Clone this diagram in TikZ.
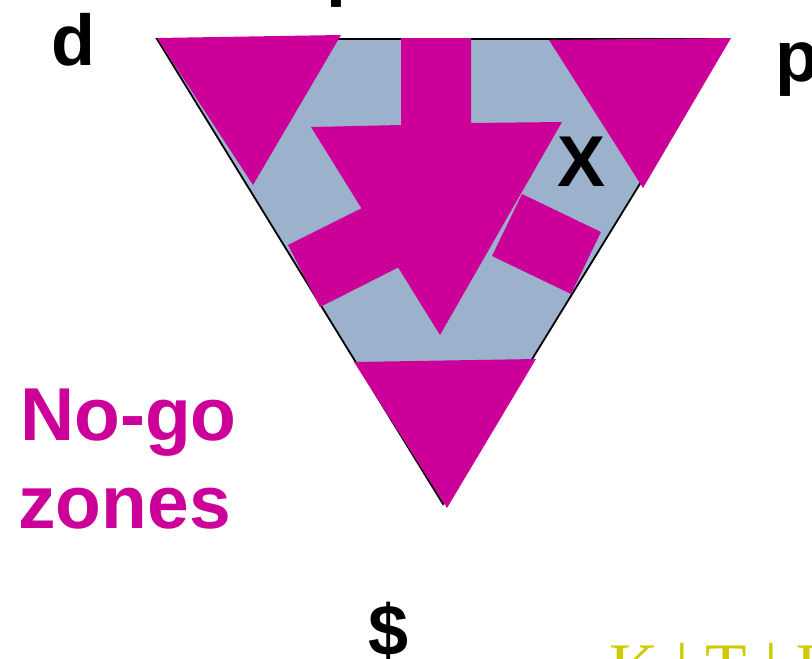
\documentclass[tikz,border=0pt]{standalone}
\usepackage{fontspec}
\setmainfont{Liberation Sans}
\newfontfamily\serifface{Liberation Serif}
\definecolor{nogo}{RGB}{204,0,153}
\definecolor{field}{RGB}{155,177,204}
\definecolor{olive}{RGB}{204,204,0}
\tikzset{
  zone/.style={fill=nogo, draw=none},
  label/.style={inner sep=0pt, font=\bfseries\fontsize{72}{80}\selectfont, text=black},
  nogotext/.style={inner sep=0pt, font=\bfseries\fontsize{75}{88}\selectfont, text=nogo},
}
\begin{document}
\begin{tikzpicture}[x=1pt,y=-1pt]
\useasboundingbox (0,0) rectangle (812,659);
\clip (0,0) rectangle (812,659);
% main triangle
\coordinate (tl) at (157,39);
\coordinate (tr) at (729,39);
\coordinate (bt) at (443,504);
\filldraw[fill=field, draw=black, line width=1.8pt, line join=miter] (tl) -- (tr) -- (bt) -- cycle;
% bars
\fill[zone] (288,245) -- (380,199) -- (417,258) -- (320,307) -- cycle;
\fill[zone] (522,194) -- (601,232) -- (571,294) -- (492,256) -- cycle;
% central arrow
\fill[zone] (401,38) -- (471,38) -- (471,123) -- (562,122) -- (440,335) -- (311,127) -- (401,125) -- cycle;
% corner triangles
\fill[zone] (157,38) -- (341,35) -- (253,185) -- cycle;
\fill[zone] (549,40) -- (731,38) -- (643,188) -- cycle;
\fill[zone] (354,362) -- (536,359) -- (447,508) -- cycle;
% labels
\node[label, anchor=base west] (d) at (51,65) {d};
\node[label, anchor=base west] (p) at (775,81) {p};
\node[label, anchor=base west] (q) at (326,-8) {p};
\node[label, anchor=base] (x) at (582,186) {X};
\node[label, anchor=base] (dollar) at (389,655) {\$};
\node[nogotext, anchor=base west] (nogo1) at (20,440) {No-go};
\node[nogotext, anchor=base west] (nogo2) at (18,528) {zones};
\node[inner sep=0pt, anchor=base west, text=olive, font=\serifface\fontsize{68}{74}\selectfont] (ktl) at (609,690) {K | T | I};
\end{tikzpicture}
\end{document}
